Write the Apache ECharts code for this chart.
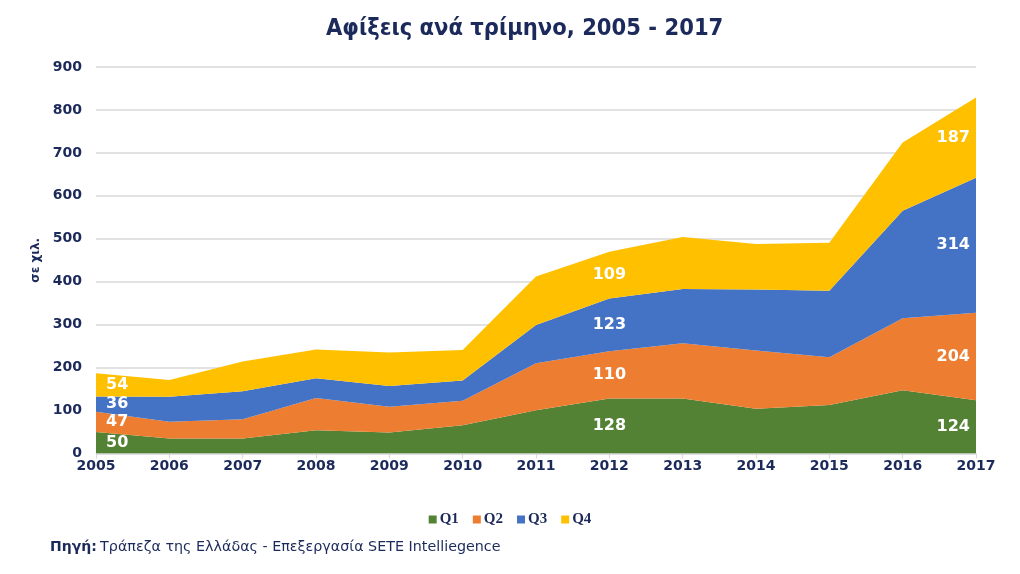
<!DOCTYPE html>
<html>
<head>
<meta charset="utf-8">
<script src="https://cdn.jsdelivr.net/npm/echarts@6/dist/echarts.min.js"></script>
<style>html,body{margin:0;padding:0;background:#fff}#c{width:1020px;height:574px}</style>
</head>
<body>
<div id="c"></div>
<script>
const years = ['2005','2006','2007','2008','2009','2010','2011','2012','2013','2014','2015','2016','2017'];
const q1 = [50,35,35,54,49,66,101,128,128,104,113,147,124];
const q2 = [47,39,45,75,60,57,109,110,129,136,111,168,204];
const q3 = [36,58,65,46,48,47,89,123,126,142,155,250,314];
const q4 = [54,39,69,67,78,71,113,109,121,106,112,159,187];
const seriesNames = ['Q1','Q2','Q3','Q4'];
const colors = ['#548235','#ED7D31','#4472C4','#FFC000'];
const labelYears = ['2005','2012','2017'];
const yTicks = [0,100,200,300,400,500,600,700,800,900];

const navy = '#1B2A5A';
const all = [q1,q2,q3,q4];

const areaSeries = all.map((d,i)=>({
  name: seriesNames[i], type:'line', stack:'total', data:d,
  symbol:'none', smooth:false,
  lineStyle:{width:0}, itemStyle:{color:colors[i]},
  areaStyle:{color:colors[i], opacity:1}, z:2
}));

const labelData = [];
all.forEach((d,s)=>{
  labelYears.forEach((yr,k)=>{
    const idx = years.indexOf(yr);
    let below = 0;
    for(let j=0;j<s;j++) below += all[j][idx];
    const pos = k===0 ? 'right' : (k===2 ? 'left' : 'inside');
    labelData.push({value:[yr, below + d[idx]/2], raw:d[idx],
      label:{position:pos, distance: k===0 ? 10 : 6}});
  });
});

const chart = echarts.init(document.getElementById('c'));
chart.setOption({
  animation:false,
  title:{text:'Αφίξεις ανά τρίμηνο, 2005 - 2017', left:321, top:12,
    textStyle:{fontFamily:'DejaVu Sans Condensed', fontWeight:'bold', fontSize:23.5, color:navy}},
  legend:{data:seriesNames, bottom:42, left:'center', itemWidth:8, itemHeight:8, itemGap:14,
    icon:'rect',
    textStyle:{fontFamily:'Liberation Serif', fontWeight:'bold', fontSize:15, color:navy, padding:[0,0,0,-2]}},
  grid:{left:96, right:44, top:67, bottom:120.5},
  xAxis:{type:'category', data:years, boundaryGap:false,
    axisLine:{lineStyle:{color:'#D9D9D9'}},
    axisTick:{show:true, length:5, lineStyle:{color:'#D9D9D9'}},
    axisLabel:{fontFamily:'DejaVu Sans', fontWeight:'bold', fontSize:14, color:navy, margin:6}},
  yAxis:{type:'value', min:0, max:900, interval:100,
    name:'σε χιλ.', nameLocation:'middle', nameGap:50, nameRotate:90,
    nameTextStyle:{fontFamily:'DejaVu Sans', fontWeight:'bold', fontSize:12, color:navy},
    axisLabel:{fontFamily:'DejaVu Sans', fontWeight:'bold', fontSize:14, color:navy, margin:14,
      formatter:v=>yTicks.includes(v)?String(v):''},
    splitLine:{lineStyle:{color:'#D9D9D9', width:1.5}},
    axisLine:{show:false}, axisTick:{show:false}},
  series: areaSeries.concat([{
    name:'labels', type:'scatter', symbolSize:0, data:labelData, z:10, silent:true,
    itemStyle:{color:'#FFFFFF', opacity:1},
    emphasis:{disabled:true},
    label:{show:true, color:'#FFFFFF', opacity:1, textBorderWidth:0,
      fontFamily:'DejaVu Sans', fontWeight:'bold', fontSize:16,
      formatter:p=>String(p.data.raw)}
  }]),
  graphic:[{type:'text', left:50, top:540,
    style:{text:'{b|Πηγή:} {n|Τράπεζα της Ελλάδας - Επεξεργασία SETE Intelliegence}',
      rich:{b:{fontFamily:'DejaVu Sans', fontWeight:'bold', fontSize:14, fill:navy},
            n:{fontFamily:'DejaVu Sans', fontSize:14.3, fill:navy}}}}]
});
</script>
</body>
</html>
